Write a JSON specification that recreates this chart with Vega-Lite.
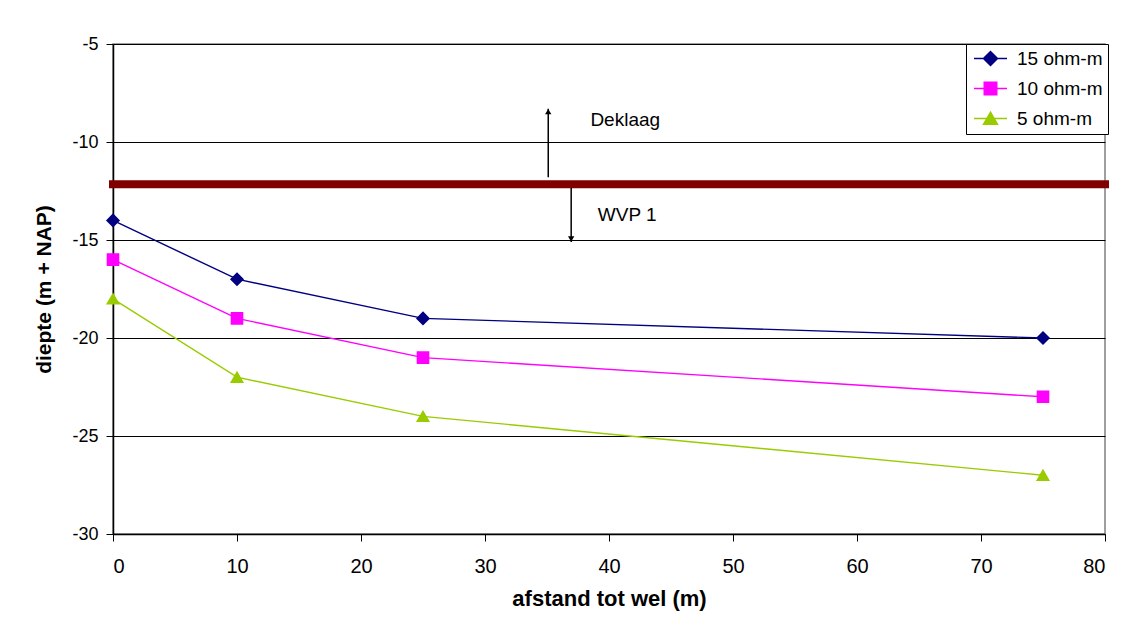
{
  "$schema": "https://vega.github.io/schema/vega-lite/v6.json",
  "width": 992,
  "height": 490,
  "autosize": "none",
  "padding": {"left": 113, "top": 44, "right": 39, "bottom": 97},
  "background": "white",
  "config": {
    "font": "Liberation Sans",
    "view": {"stroke": "#808080", "strokeWidth": 1.5},
    "axis": {
      "labelFont": "Liberation Sans",
      "titleFont": "Liberation Sans",
      "titleFontWeight": "bold",
      "labelColor": "black",
      "titleColor": "black",
      "domainColor": "black",
      "tickColor": "black",
      "gridColor": "black",
      "gridOpacity": 1,
      "gridWidth": 1,
      "domainWidth": 1.5,
      "tickWidth": 1,
      "tickSize": 7
    }
  },
  "datasets": {
    "series": [
      {"afstand": 0, "diepte": -14, "serie": "15 ohm-m"},
      {"afstand": 10, "diepte": -17, "serie": "15 ohm-m"},
      {"afstand": 25, "diepte": -19, "serie": "15 ohm-m"},
      {"afstand": 75, "diepte": -20, "serie": "15 ohm-m"},
      {"afstand": 0, "diepte": -16, "serie": "10 ohm-m"},
      {"afstand": 10, "diepte": -19, "serie": "10 ohm-m"},
      {"afstand": 25, "diepte": -21, "serie": "10 ohm-m"},
      {"afstand": 75, "diepte": -23, "serie": "10 ohm-m"},
      {"afstand": 0, "diepte": -18, "serie": "5 ohm-m"},
      {"afstand": 10, "diepte": -22, "serie": "5 ohm-m"},
      {"afstand": 25, "diepte": -24, "serie": "5 ohm-m"},
      {"afstand": 75, "diepte": -27, "serie": "5 ohm-m"}
    ],
    "grens": [{"x1": 0, "x2": 80, "y": -12.15}],
    "pijlen": [
      {"x": 35.1, "y1": -11.8, "y2": -8.3, "tip": -8.45, "shape": "triangle-up"},
      {"x": 36.95, "y1": -12.35, "y2": -15.1, "tip": -14.95, "shape": "triangle-down"}
    ],
    "labels": [
      {"x": 38.5, "y": -8.9, "tekst": "Deklaag"},
      {"x": 39.1, "y": -13.7, "tekst": "WVP 1"}
    ]
  },
  "layer": [
    {
      "data": {"name": "grens"},
      "mark": {"type": "rule", "color": "#800000", "strokeWidth": 8, "strokeCap": "square"},
      "encoding": {
        "x": {"field": "x1", "type": "quantitative", "scale": {"domain": [0, 80], "nice": false, "zero": false}},
        "x2": {"field": "x2"},
        "y": {"field": "y", "type": "quantitative", "scale": {"domain": [-30, -5], "nice": false, "zero": false}}
      }
    },
    {
      "data": {"name": "pijlen"},
      "mark": {"type": "rule", "color": "black", "strokeWidth": 1.5},
      "encoding": {
        "x": {"field": "x", "type": "quantitative", "scale": {"domain": [0, 80], "nice": false, "zero": false}},
        "y": {"field": "y1", "type": "quantitative", "scale": {"domain": [-30, -5], "nice": false, "zero": false}},
        "y2": {"field": "y2"}
      }
    },
    {
      "data": {"name": "pijlen"},
      "mark": {"type": "point", "filled": true, "color": "black", "size": 40, "opacity": 1},
      "encoding": {
        "x": {"field": "x", "type": "quantitative", "scale": {"domain": [0, 80], "nice": false, "zero": false}},
        "y": {"field": "tip", "type": "quantitative", "scale": {"domain": [-30, -5], "nice": false, "zero": false}},
        "shape": {"field": "shape", "type": "nominal", "scale": null}
      }
    },
    {
      "data": {"name": "labels"},
      "mark": {"type": "text", "align": "left", "baseline": "middle", "fontSize": 19, "font": "Liberation Sans", "color": "black"},
      "encoding": {
        "x": {"field": "x", "type": "quantitative", "scale": {"domain": [0, 80], "nice": false, "zero": false}},
        "y": {"field": "y", "type": "quantitative", "scale": {"domain": [-30, -5], "nice": false, "zero": false}},
        "text": {"field": "tekst"}
      }
    },
    {
      "data": {"name": "series"},
      "mark": {"type": "line", "strokeWidth": 1.4},
      "encoding": {
        "x": {"field": "afstand", "type": "quantitative",
          "scale": {"domain": [0, 80], "nice": false, "zero": false},
          "axis": {"title": "afstand tot wel (m)", "values": [0, 10, 20, 30, 40, 50, 60, 70, 80], "grid": false, "labelFontSize": 20, "titleFontSize": 22, "labelPadding": 15, "titlePadding": 12, "labelExpr": "replace(datum.label, '−', '-')"}},
        "y": {"field": "diepte", "type": "quantitative",
          "scale": {"domain": [-30, -5], "nice": false, "zero": false},
          "axis": {"title": "diepte (m + NAP)", "values": [-30, -25, -20, -15, -10, -5], "grid": true, "labelFontSize": 18, "titleFontSize": 21, "labelPadding": 8, "titlePadding": 17, "labelExpr": "replace(datum.label, '−', '-')"}},
        "color": {"field": "serie", "type": "nominal",
          "scale": {"domain": ["15 ohm-m", "10 ohm-m", "5 ohm-m"], "range": ["#000080", "#FF00FF", "#99CC00"]}}
      }
    },
    {
      "data": {"name": "series"},
      "mark": {"type": "point", "filled": true, "opacity": 1, "size": 180},
      "encoding": {
        "x": {"field": "afstand", "type": "quantitative", "scale": {"domain": [0, 80], "nice": false, "zero": false}},
        "y": {"field": "diepte", "type": "quantitative", "scale": {"domain": [-30, -5], "nice": false, "zero": false}},
        "color": {"field": "serie", "type": "nominal",
          "scale": {"domain": ["15 ohm-m", "10 ohm-m", "5 ohm-m"], "range": ["#000080", "#FF00FF", "#99CC00"]},
          "legend": {
            "title": null, "orient": "none", "legendX": 853, "legendY": 0,
            "strokeColor": "black", "fillColor": "white", "padding": 5,
            "labelFontSize": 19, "labelFont": "Liberation Sans", "labelColor": "black",
            "symbolSize": 180, "rowPadding": 10, "labelOffset": 17, "symbolOffset": 10,
            "symbolStrokeColor": {"expr": "scale('color', datum.value)"}, "symbolStrokeWidth": 1.4
          }},
        "shape": {"field": "serie", "type": "nominal",
          "scale": {"domain": ["15 ohm-m", "10 ohm-m", "5 ohm-m"],
            "range": ["M-2.46,0H2.46M0,-1.05L1.05,0L0,1.05L-1.05,0Z", "M-2.46,0H2.46M-0.94,-0.94H0.94V0.94H-0.94Z", "M-2.46,0H2.46M0,-0.95L1.05,0.85L-1.05,0.85Z"]},
          "legend": {
            "title": null, "orient": "none", "legendX": 853, "legendY": 0,
            "strokeColor": "black", "fillColor": "white", "padding": 5,
            "labelFontSize": 19, "labelFont": "Liberation Sans", "labelColor": "black",
            "symbolSize": 180, "rowPadding": 10, "labelOffset": 17, "symbolOffset": 10,
            "symbolStrokeColor": {"expr": "scale('color', datum.value)"}, "symbolStrokeWidth": 1.4
          }}
      }
    }
  ]
}
